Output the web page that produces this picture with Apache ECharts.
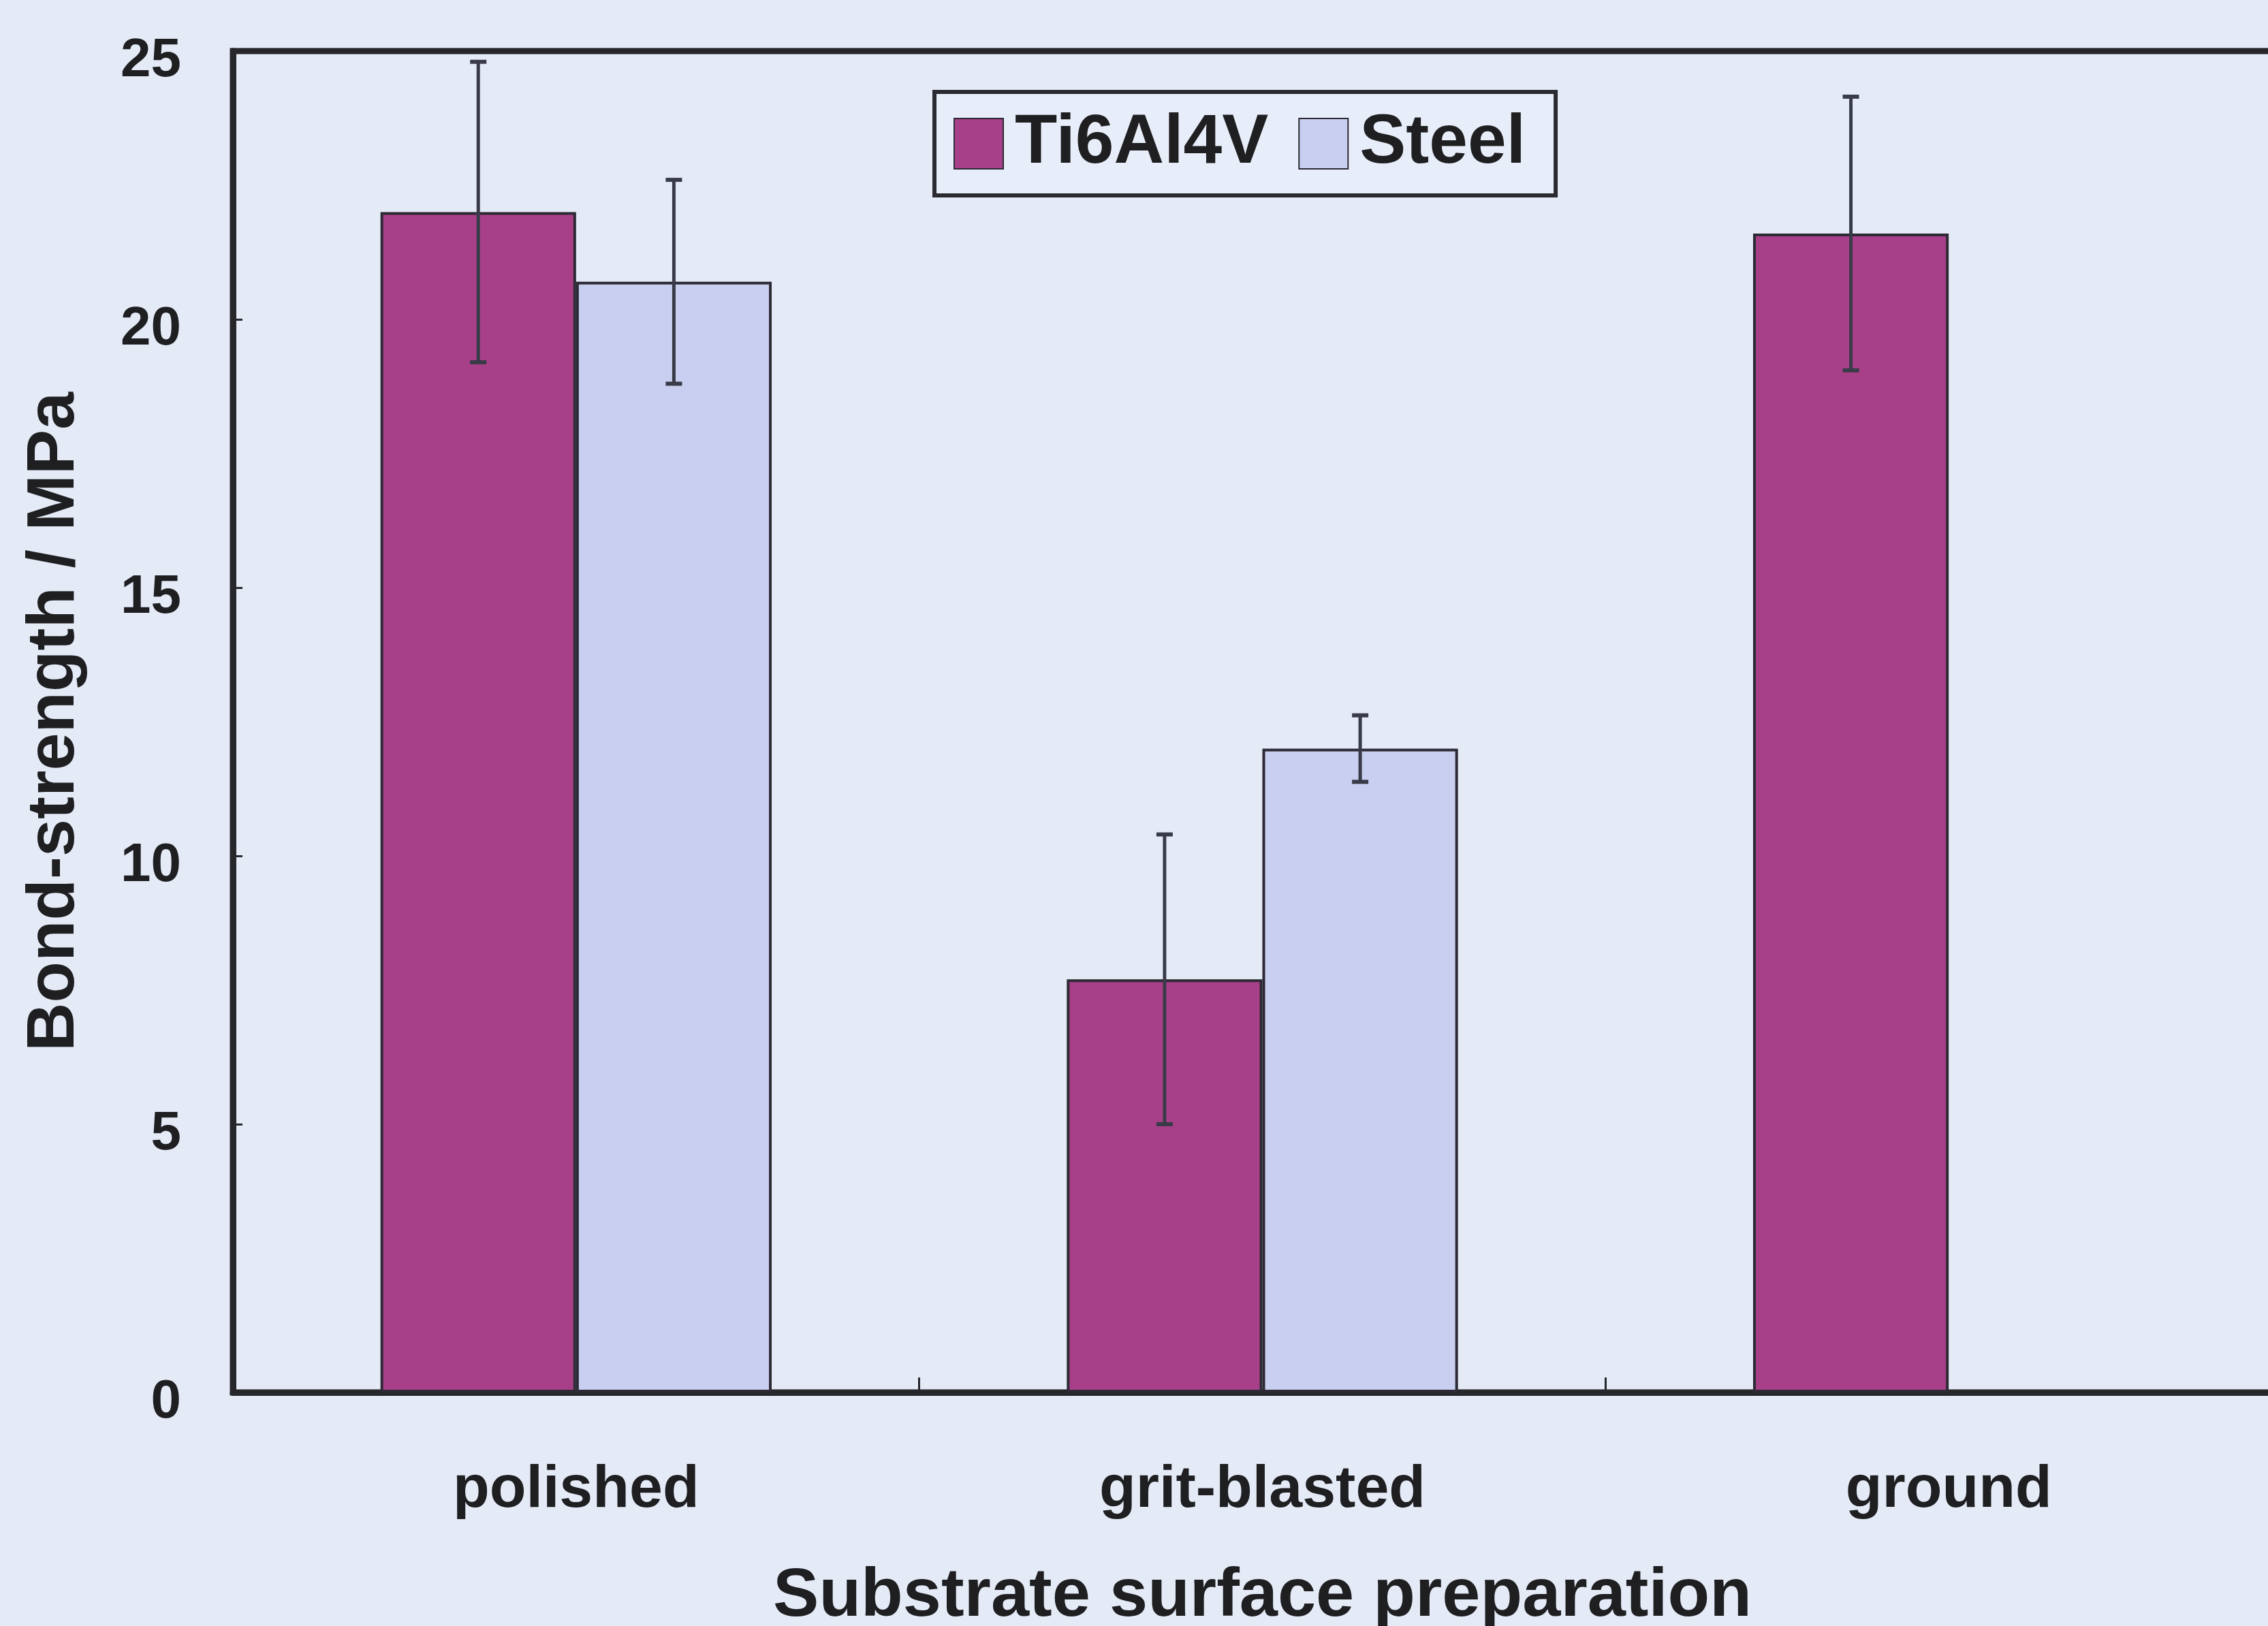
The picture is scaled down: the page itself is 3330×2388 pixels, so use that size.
<!DOCTYPE html>
<html>
<head>
<meta charset="utf-8">
<title>Bond-strength by substrate surface preparation</title>
<script src="https://cdn.jsdelivr.net/npm/echarts@6/dist/echarts.min.js"></script>
<style>
  html, body { margin: 0; padding: 0; background: #e4ebf7; }
  #chart { width: 3330px; height: 2388px; }
</style>
</head>
<body>
<div id="chart"></div>
<script>
// Substrate preparations on the x axis
const categories = ['polished', 'grit-blasted', 'ground'];

// Mean bond strength (MPa) and standard deviation for each substrate alloy
const ti6al4vMean = [22.0, 7.7, 21.6];
const ti6al4vErr  = [2.8, 2.7, 2.55];
const steelMean   = [20.7, 12.0, null];
const steelErr    = [1.9, 0.62, null];

// Y axis ticks
const yTicks = [0, 5, 10, 15, 20, 25];

const FONT = '"Liberation Sans", Arial, sans-serif';
const INK = '#1f1f22';
const BAR_GAP = 0.43;           // fraction of each category left empty
const BAR_COUNT = 2;

const chart = echarts.init(document.getElementById('chart'), null, { renderer: 'canvas' });

// Error bars drawn through the axis scales, offset to each bar slot.
function errorBarSeries(name, means, errs, slot) {
  const data = means.map((m, i) => (m == null ? null : [i, m - errs[i], m + errs[i]]));
  return {
    name: name + ' error',
    type: 'custom',
    z: 10,
    silent: true,
    data: data.filter(d => d !== null),
    encode: { x: 0, y: [1, 2] },
    renderItem: function (params, api) {
      const idx = api.value(0);
      const lo = api.coord([idx, api.value(1)]);
      const hi = api.coord([idx, api.value(2)]);
      const catW = api.size([1, 0])[0];
      const barW = catW * (1 - BAR_GAP) / BAR_COUNT;
      const x = lo[0] + (slot - (BAR_COUNT - 1) / 2) * barW;
      const cap = 12;
      const stem = { stroke: '#3a3b48', lineWidth: 5 };
      const capStyle = { stroke: '#3a3b48', lineWidth: 6 };
      return {
        type: 'group',
        children: [
          { type: 'line', shape: { x1: x, y1: hi[1], x2: x, y2: lo[1] }, style: stem },
          { type: 'line', shape: { x1: x - cap, y1: hi[1], x2: x + cap, y2: hi[1] }, style: capStyle },
          { type: 'line', shape: { x1: x - cap, y1: lo[1], x2: x + cap, y2: lo[1] }, style: capStyle }
        ]
      };
    }
  };
}

const option = {
  backgroundColor: '#e4ebf7',
  animation: false,
  textStyle: { fontFamily: FONT, fontWeight: 'bold', color: INK },
  grid: {
    left: 342, top: 75, bottom: 343,
    width: 3023,                // plot frame runs on past the right edge of the page
    outerBoundsMode: 'none',
    containLabel: false,
    show: true,
    borderColor: '#26262b',
    borderWidth: 9,
    backgroundColor: 'transparent'
  },
  legend: {
    data: ['Ti6Al4V', 'Steel'],
    left: 1372,
    top: 135,
    orient: 'horizontal',
    padding: [25, 44, 25, 28],
    backgroundColor: '#e8eef9',
    borderColor: '#2a2a30',
    borderWidth: 6,
    borderRadius: 0,
    itemWidth: 72,
    itemHeight: 74,
    itemGap: 44,
    icon: 'rect',
    textStyle: {
      fontFamily: FONT, fontWeight: 'bold', fontSize: 102, color: INK,
      padding: [0, 0, 0, 12]
    }
  },
  xAxis: {
    type: 'category',
    data: categories,
    boundaryGap: true,
    axisLine: { show: true, lineStyle: { color: '#26262b', width: 9 } },
    axisTick: { show: true, inside: true, length: 22, lineStyle: { color: '#26262b', width: 3 } },
    axisLabel: { fontFamily: FONT, fontWeight: 'bold', fontSize: 88, color: INK, margin: 100 },
    splitLine: { show: false },
    name: 'Substrate surface preparation',
    nameLocation: 'middle',
    nameGap: 250,
    nameTextStyle: { fontFamily: FONT, fontWeight: 'bold', fontSize: 101, color: INK }
  },
  yAxis: {
    type: 'value',
    min: yTicks[0],
    max: yTicks[yTicks.length - 1],
    interval: yTicks[1] - yTicks[0],
    axisLine: { show: true, lineStyle: { color: '#26262b', width: 9 } },
    axisTick: { show: true, inside: true, length: 14, lineStyle: { color: '#26262b', width: 3 } },
    axisLabel: {
      color: INK, margin: 76,
      formatter: v => '{v|' + v + '}',
      rich: {
        v: { fontFamily: FONT, fontWeight: 'bold', fontSize: 80, color: INK, padding: [30, 0, 0, 0] }
      }
    },
    splitLine: { show: false },
    name: 'Bond-strength / MPa',
    nameLocation: 'middle',
    nameRotate: 90,
    nameGap: 212,
    nameTextStyle: { fontFamily: FONT, fontWeight: 'bold', fontSize: 99, color: INK }
  },
  series: [
    {
      name: 'Ti6Al4V',
      type: 'bar',
      data: ti6al4vMean,
      barGap: '0%',
      barCategoryGap: (BAR_GAP * 100) + '%',
      itemStyle: { color: '#a84089', borderColor: '#2d2a35', borderWidth: 4 }
    },
    {
      name: 'Steel',
      type: 'bar',
      data: steelMean,
      barGap: '0%',
      barCategoryGap: (BAR_GAP * 100) + '%',
      itemStyle: { color: '#c8cff0', borderColor: '#2d2a35', borderWidth: 4 }
    },
    errorBarSeries('Ti6Al4V', ti6al4vMean, ti6al4vErr, 0),
    errorBarSeries('Steel', steelMean, steelErr, 1)
  ]
};

chart.setOption(option);
</script>
</body>
</html>
